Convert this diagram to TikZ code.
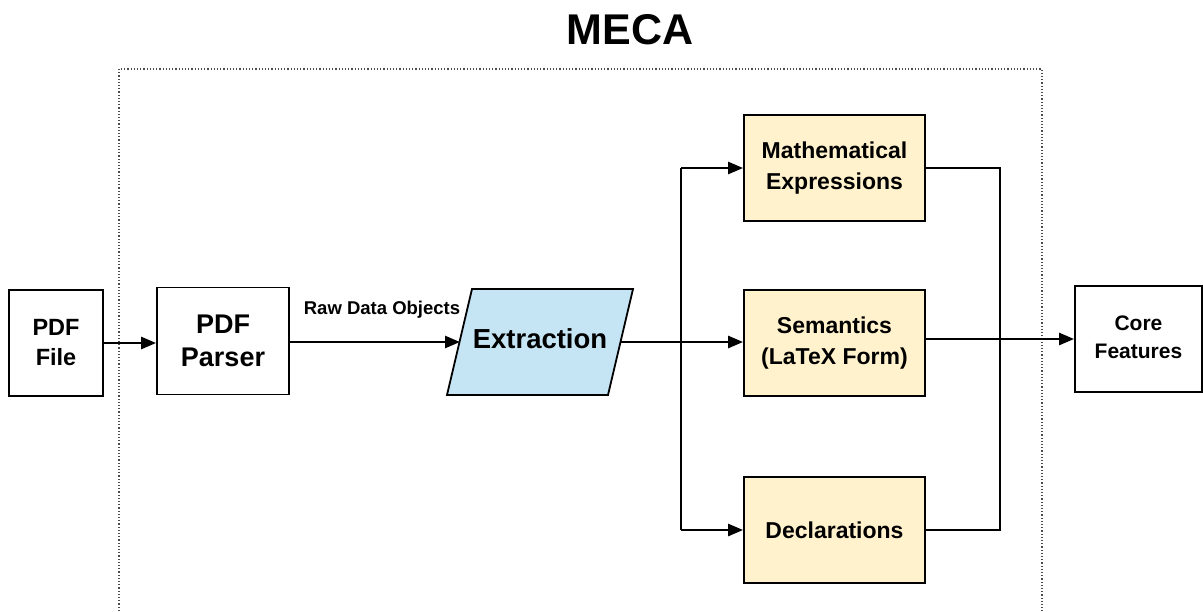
\documentclass[tikz,border=0pt]{standalone}
\usepackage{fontspec}
\setmainfont{Liberation Sans}
\usetikzlibrary{arrows.meta}
\definecolor{yelfill}{HTML}{FFF2CC}
\definecolor{bluefill}{HTML}{C5E4F4}
\begin{document}
\begin{tikzpicture}[x=1pt,y=-1pt,
  box/.style={draw=black, line width=1.8pt, fill=white, align=center, inner sep=2pt},
  feat/.style={box, fill=yelfill, minimum width=181pt, minimum height=106pt, font=\fontsize{23}{31}\selectfont\bfseries},
  conn/.style={line width=2.6pt, draw=black},
  arr/.style={conn, -{Triangle[length=15pt,width=12pt]}},
  border/.style={dotted, line width=1.2pt, draw=black!70}
]
\useasboundingbox (0,0) rectangle (1203,611);
% title
\node[font=\fontsize{43}{50}\selectfont\bfseries] (title) at (630,30) {MECA};
% dotted frame
\draw[border] (119,611) -- (119,69) -- (1042,69) -- (1042,611);
% nodes
\node[box, minimum width=94pt, minimum height=106pt, font=\fontsize{23.5}{30}\selectfont\bfseries] (pdf) at (56,343) {PDF\\File};
\node[box, minimum width=132pt, minimum height=107pt, font=\fontsize{27}{33}\selectfont\bfseries] (parser) at (223,341) {PDF\\Parser};
% extraction parallelogram
\coordinate (pBL) at (447,395);
\coordinate (pTL) at (472,289);
\coordinate (pTR) at (633,289);
\coordinate (pBR) at (608,395);
\draw[line width=1.8pt, fill=bluefill] (pBL) -- (pTL) -- (pTR) -- (pBR) -- cycle;
\node[font=\fontsize{27.5}{33}\selectfont\bfseries] (ext) at (540,339) {Extraction};
\coordinate (extL) at (460,342);
\coordinate (extR) at (621,342);
\node[feat] (math) at (834.5,168) {Mathematical\\Expressions};
\node[feat] (sem) at (834.5,343) {Semantics\\(LaTeX Form)};
\node[feat] (decl) at (834.5,530) {Declarations};
\node[box, minimum width=127pt, minimum height=106pt, font=\fontsize{21}{28}\selectfont\bfseries] (core) at (1138.5,339) {\raisebox{3pt}{Core}\\\raisebox{3pt}{Features}};
% connectors
\draw[arr] (pdf.east) -- (pdf.east -| parser.west);
\draw[arr] (parser.east |- extL) -- (extL);
\node[font=\fontsize{18.5}{22}\selectfont\bfseries] (raw) at (382,310) {Raw Data Objects};
\coordinate (busT) at (681,168);
\coordinate (busB) at (681,530);
\coordinate (rT) at (1000,168);
\coordinate (rB) at (1000,530);
\draw[arr] (extR) -- (extR -| sem.west);
\draw[conn] (busT) -- (busB);
\draw[arr] (busT) -- (math.west);
\draw[arr] (busB) -- (decl.west);
\draw[conn] (math.east) -- (rT) -- (rB) -- (decl.east);
\draw[arr] (core.west -| sem.east) -- (core.west);
\end{tikzpicture}
\end{document}
